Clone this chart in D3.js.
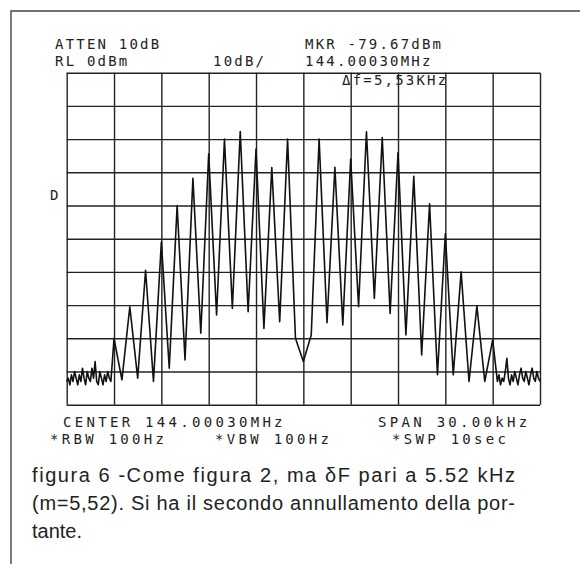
<!DOCTYPE html>
<html>
<head>
<meta charset="utf-8">
<script src="https://cdn.jsdelivr.net/npm/d3@7"></script>
<style>
  body { margin: 0; background: #fff; }
  svg { display: block; }
</style>
</head>
<body>
<div id="chart"></div>
<script>
// sideband positions (kHz from carrier) and levels
const sidebandKHz = [-12, -11, -10, -9, -8, -7, -6, -5, -4, -3, -2, -1, 0, 1, 2, 3, 4, 5, 6, 7, 8, 9, 10, 11, 12];
const peakDbm = [-80, -70.5, -59.5, -51, -40, -31.8, -24.4, -20, -17.7, -23, -28.6, -20, -87,
                 -20, -28.5, -26, -17.8, -19.5, -24.1, -31.2, -39.5, -48.5, -60, -70.3, -80.5];
// minima between neighbouring sidebands
const valleyDbm = [-92.5, -92, -93, -89, -86.5, -78.5, -73, -71, -72, -77, -75, -80,
                   -79, -75.3, -76, -70.5, -68, -72.5, -79, -85, -91, -91, -93, -93];
// noise floor at the two ends of the sweep, 0.1 kHz apart
const noiseLeftStart = -15.0;
const noiseLeftDbm = [-93, -92, -94, -91, -93, -90, -92, -94, -91, -93, -89, -92, -94, -90, -92,
                      -93, -89, -92, -87, -93, -94, -90, -92, -94, -91, -93, -90, -92, -93];
const noiseRightStart = 12.3;
const noiseRightDbm = [-93, -91, -94, -92, -93, -90, -86, -92, -94, -91, -93, -90, -92, -94,
                       -91, -89, -92, -93, -90, -92, -94, -91, -89, -92, -93, -90, -92, -93];
const noiseStep = 0.1;

const gridKHz = [-15, -12, -9, -6, -3, 0, 3, 6, 9, 12, 15];
const gridDbm = [0, -10, -20, -30, -40, -50, -60, -70, -80, -90, -100];

const W = 580, H = 564;
const svg = d3.select("#chart").append("svg")
  .attr("width", W)
  .attr("height", H);

svg.append("rect").attr("width", W).attr("height", H).attr("fill", "#fff");

// page frame
svg.append("path")
  .attr("d", "M11,564 L11,11 L580,11")
  .attr("fill", "none")
  .attr("stroke", "#444")
  .attr("stroke-width", 1.4);

const x = d3.scaleLinear().domain([-15, 15]).range([66.7, 540]);
const y = d3.scaleLinear().domain([-100, 0]).range([404.7, 72.7]);

const grid = svg.append("g");

grid.append("g")
  .attr("transform", `translate(0,${y(-100)})`)
  .call(d3.axisBottom(x).tickValues(gridKHz).tickSize(-(y(-100) - y(0))).tickFormat(""))
  .call(g => g.select(".domain").remove())
  .call(g => g.selectAll("line").attr("stroke", "#222").attr("stroke-width", 1.4));

grid.append("g")
  .attr("transform", `translate(${x(-15)},0)`)
  .call(d3.axisLeft(y).tickValues(gridDbm).tickSize(-(x(15) - x(-15))).tickFormat(""))
  .call(g => g.select(".domain").remove())
  .call(g => g.selectAll("line").attr("stroke", "#222").attr("stroke-width", 1.4));

// trace
const trace = [];
noiseLeftDbm.forEach((v, i) => trace.push([noiseLeftStart + i * noiseStep, v]));
sidebandKHz.forEach((f, i) => {
  trace.push([f, peakDbm[i]]);
  if (i < valleyDbm.length) trace.push([(f + sidebandKHz[i + 1]) / 2, valleyDbm[i]]);
});
noiseRightDbm.forEach((v, i) => trace.push([noiseRightStart + i * noiseStep, v]));

svg.append("path")
  .datum(trace)
  .attr("fill", "none")
  .attr("stroke", "#111")
  .attr("stroke-width", 1.6)
  .attr("stroke-linejoin", "round")
  .attr("d", d3.line().x(d => x(d[0])).y(d => y(d[1])));

// instrument annotations
const mono = "'DejaVu Sans Mono', 'Liberation Mono', monospace";
const topLabels = [
  { t: "ATTEN 10dB", x: 55, y: 49 },
  { t: "RL 0dBm", x: 55, y: 66 },
  { t: "10dB/", x: 213, y: 66 },
  { t: "MKR -79.67dBm", x: 305, y: 49 },
  { t: "144.00030MHz", x: 305, y: 66 },
  { t: "\u0394f=5,53KHz", x: 342, y: 85 },
  { t: "D", x: 50, y: 200 }
];
svg.append("g").selectAll("text")
  .data(topLabels)
  .join("text")
  .attr("x", d => d.x)
  .attr("y", d => d.y)
  .attr("font-family", mono)
  .attr("font-size", 14)
  .attr("letter-spacing", 2.2)
  .attr("fill", "#222")
  .text(d => d.t);

const bottomLabels = [
  { t: "CENTER 144.00030MHz", x: 63, y: 427 },
  { t: "SPAN 30.00kHz", x: 378, y: 427 },
  { t: "*RBW 100Hz", x: 50, y: 444 },
  { t: "*VBW 100Hz", x: 215, y: 444 },
  { t: "*SWP 10sec", x: 392, y: 444 }
];
svg.append("g").selectAll("text")
  .data(bottomLabels)
  .join("text")
  .attr("x", d => d.x)
  .attr("y", d => d.y)
  .attr("font-family", mono)
  .attr("font-size", 14)
  .attr("letter-spacing", 3.3)
  .attr("fill", "#222")
  .text(d => d.t);

// caption
const caption = [
  { t: "figura 6 -Come figura 2, ma \u03b4F pari a 5.52 kHz", y: 482, fit: true },
  { t: "(m=5,52). Si ha il secondo annullamento della por-", y: 510, fit: true },
  { t: "tante.", y: 538, fit: false }
];
svg.append("g").selectAll("text")
  .data(caption)
  .join("text")
  .attr("x", 32)
  .attr("y", d => d.y)
  .attr("font-family", "'Liberation Sans', Arial, sans-serif")
  .attr("font-size", 20)
  .attr("fill", "#222")
  .attr("textLength", d => d.fit ? 483 : null)
  .attr("lengthAdjust", "spacing")
  .text(d => d.t);
</script>
</body>
</html>
